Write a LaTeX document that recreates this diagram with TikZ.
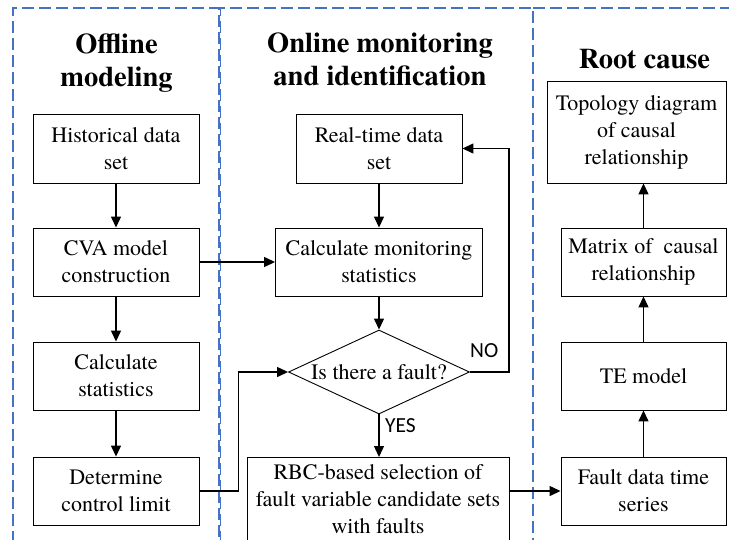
\documentclass[tikz,border=0pt]{standalone}
\usepackage{fontspec}
\setmainfont{texgyretermes}[Extension=.otf,UprightFont=*-regular,BoldFont=*-bold,ItalicFont=*-italic,BoldItalicFont=*-bolditalic]
\newfontfamily\labelfont{Carlito}
\usetikzlibrary{shapes.geometric,arrows.meta}
\definecolor{panelblue}{RGB}{68,114,196}
\begin{document}
\begin{tikzpicture}[x=1pt,y=-1pt,
  panel/.style={draw=panelblue,line width=1.4pt,dash pattern=on 12pt off 5pt},
  box/.style={draw,line width=0.9pt,inner sep=0pt,align=center,font=\fontsize{22}{27}\selectfont},
  title/.style={align=center,inner sep=0pt,font=\fontsize{28.5}{33}\selectfont\bfseries},
  flow/.style={line width=1.3pt,-{Triangle[length=11pt,width=10pt]}},
  tag/.style={font=\labelfont\fontsize{21.5}{25}\selectfont,inner sep=0pt}]
\useasboundingbox (0,0) rectangle (729,539);

% dashed panels
\draw[panel] (13,560) -- (13,8) -- (219,8) -- (219,560);
\draw[panel] (220.5,560) -- (220.5,8) -- (533,8) -- (533,560);
\draw[panel] (533,8) -- (760,8);

% panel titles
\node[title] (offT) at (116.5,62.8) {Offline\\modeling};
\node[title] (onT) at (380,59.8) {Online monitoring\\and identification};
\node[title] (rootT) at (644.5,59) {Root cause};

% offline modeling
\node[box,minimum width=166pt,minimum height=69pt] (hist) at (116,148.5) {Historical data\\set};
\node[box,minimum width=166pt,minimum height=68pt] (cva) at (116,262) {CVA model\\construction};
\node[box,minimum width=166pt,minimum height=68pt] (calc) at (116,376) {Calculate\\statistics};
\node[box,minimum width=166pt,minimum height=68pt] (limit) at (116,491) {Determine\\control limit};

% online monitoring and identification
\node[box,minimum width=166pt,minimum height=69pt] (rt) at (379,148.5) {Real-time data\\set};
\node[box,minimum width=207pt,minimum height=68pt] (mon) at (379,262) {Calculate monitoring\\statistics};
\node[box,diamond,aspect=2.155,minimum width=181pt,minimum height=84pt] (fault) at (379,372) {Is there a fault?};
\node[box,anchor=north,minimum width=262pt,minimum height=84pt] (rbc) at (378,457) {RBC-based selection of\\fault variable candidate sets\\with faults};

% root cause
\node[box,minimum width=179pt,minimum height=102pt] (topo) at (636.5,132) {Topology diagram\\of causal\\relationship};
\node[box,minimum width=165pt,minimum height=68pt] (mat) at (643.5,262) {Matrix of~ causal\\relationship};
\node[box,minimum width=165pt,minimum height=68pt] (te) at (643.5,376) {TE model};
\node[box,minimum width=165pt,minimum height=68pt] (fds) at (643.5,491) {Fault data time\\series};

% connectors
\draw[flow] (hist) -- (cva);
\draw[flow] (cva) -- (calc);
\draw[flow] (calc) -- (limit);
\draw[flow] (cva) -- (mon);
\draw[flow] (limit.east) -- ++(39,0) |- (fault.west);
\draw[flow] (rt) -- (mon);
\draw[flow] (mon) -- (fault);
\draw[flow] (fault.east) -- ++(39,0) |- (rt.east);
\draw[flow] (fault.south) -- (fault.south |- rbc.north);
\draw[flow] (rbc.east |- fds.west) -- (fds.west);
\draw[flow] (fds) -- (te);
\draw[flow] (te) -- (mat);
\draw[flow] (mat.north) -- (mat.north |- topo.south);

% decision labels
\node[tag,anchor=base west] (no) at (470,357) {NO};
\node[tag,anchor=base west] (yes) at (385,432) {YES};
\end{tikzpicture}
\end{document}
